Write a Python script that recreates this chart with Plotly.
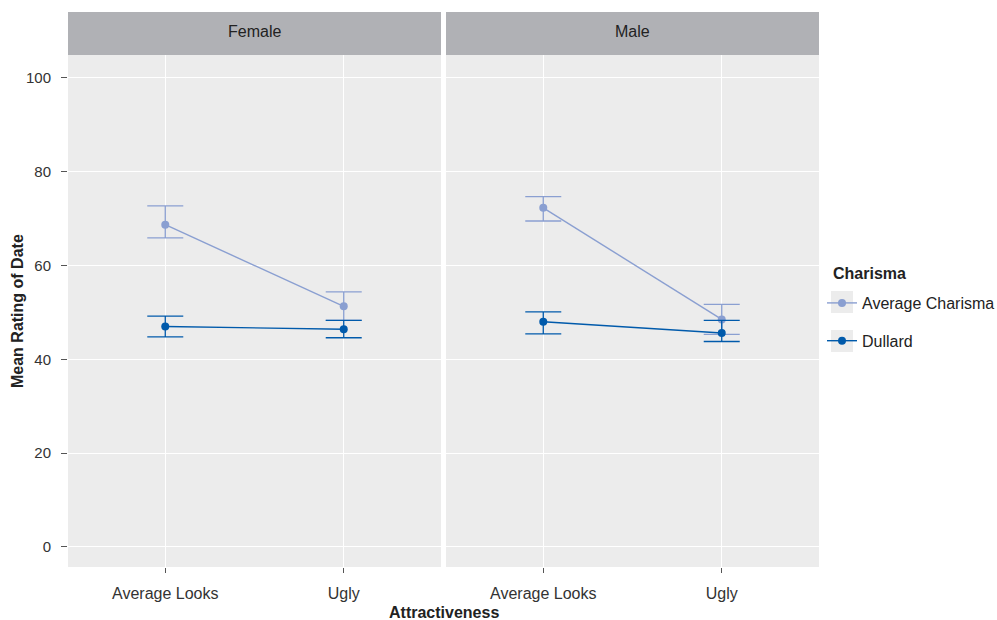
import plotly.graph_objects as go

categories = ["Average Looks", "Ugly"]
panels = ["Female", "Male"]
groups = ["Average Charisma", "Dullard"]

# mean, upper, lower for each panel/group across categories
female_avg_mean = [68.7, 51.3]
female_avg_hi = [72.7, 54.4]
female_avg_lo = [65.9, 48.3]
female_dull_mean = [47.0, 46.4]
female_dull_hi = [49.2, 48.3]
female_dull_lo = [44.8, 44.6]

male_avg_mean = [72.3, 48.5]
male_avg_hi = [74.7, 51.7]
male_avg_lo = [69.5, 45.3]
male_dull_mean = [48.0, 45.6]
male_dull_hi = [50.1, 48.3]
male_dull_lo = [45.4, 43.8]

y_ticks = [0, 20, 40, 60, 80, 100]

colors = {"Average Charisma": "#8a9fd1", "Dullard": "#005aab"}

data = {
    ("Female", "Average Charisma"): (female_avg_mean, female_avg_hi, female_avg_lo),
    ("Female", "Dullard"): (female_dull_mean, female_dull_hi, female_dull_lo),
    ("Male", "Average Charisma"): (male_avg_mean, male_avg_hi, male_avg_lo),
    ("Male", "Dullard"): (male_dull_mean, male_dull_hi, male_dull_lo),
}

FONT = "Liberation Sans, Arial, Helvetica, sans-serif"
PANEL = "#ececec"
TXT = "#222"
TICKTXT = "#333"
W, H = 997, 620
L, R, T, B = 68, 178, 55, 53
PW, PH = W - L - R, H - T - B

fig = go.Figure()
xpos = [1, 2]
for pi, panel in enumerate(panels):
    xa = "x" if pi == 0 else "x2"
    for g in groups:
        m, hi, lo = data[(panel, g)]
        fig.add_trace(go.Scatter(
            x=xpos, y=m, xaxis=xa, yaxis="y",
            mode="lines+markers", name=g, legendgroup=g,
            showlegend=(pi == 0),
            line=dict(color=colors[g], width=1.4),
            marker=dict(color=colors[g], size=8),
            error_y=dict(type="data", symmetric=False,
                         array=[h - v for h, v in zip(hi, m)],
                         arrayminus=[v - l for l, v in zip(lo, m)],
                         color=colors[g], thickness=1.3, width=18),
        ))

xr = [0.455, 2.545]
axis_common = dict(
    range=xr, tickmode="array", tickvals=xpos, ticktext=categories,
    showgrid=True, gridcolor="white", gridwidth=1.2, zeroline=False,
    ticks="outside", ticklen=5, tickcolor="#555", ticklabelstandoff=7,
    tickfont=dict(size=16, color=TICKTXT, family=FONT), showline=False,
)
dom1 = [0, 373 / PW]
dom2 = [378 / PW, 1]
fig.update_layout(
    width=W, height=H,
    margin=dict(l=L, r=R, t=T, b=B, autoexpand=False),
    paper_bgcolor="white", plot_bgcolor=PANEL,
    font=dict(family=FONT, size=16, color=TXT),
    xaxis=dict(domain=dom1, **axis_common),
    xaxis2=dict(domain=dom2, anchor="y", **axis_common),
    yaxis=dict(range=[-4.3, 104.9], tickvals=y_ticks, showgrid=True,
               gridcolor="white", gridwidth=1.2, zeroline=False,
               ticks="outside", ticklen=6, tickcolor="#555", ticklabelstandoff=7,
               tickfont=dict(size=15, color=TICKTXT, family=FONT)),
    legend=dict(x=(822 - L) / PW, xanchor="left", y=(H - B - 286) / PH, yanchor="top",
                font=dict(size=16, color=TXT), traceorder="grouped",
                tracegroupgap=14, itemwidth=30, bgcolor="rgba(0,0,0,0)"),
    showlegend=True,
)

for x0, x1 in [dom1, dom2]:
    fig.add_shape(type="rect", xref="paper", yref="paper", x0=x0, x1=x1, y0=0, y1=1,
                  fillcolor=PANEL, line_width=0, layer="below")

# legend key backgrounds
for ktop in [291, 330]:
    fig.add_shape(type="rect", xref="paper", yref="paper",
                  x0=(831 - L) / PW, x1=(853 - L) / PW,
                  y0=(H - B - ktop - 22) / PH, y1=(H - B - ktop) / PH,
                  fillcolor=PANEL, line_width=0, layer="below")

fig.add_annotation(xref="paper", yref="paper", x=(831 - L) / PW, y=(H - B - 273) / PH,
                   text="<b>Charisma</b>", showarrow=False, xanchor="left", yanchor="middle",
                   font=dict(size=16, color=TXT))

# y-axis title
fig.add_annotation(xref="paper", yref="paper", x=(17 - L) / PW, y=0.5, textangle=-90,
                   text="<b>Mean Rating of Date</b>", showarrow=False,
                   xanchor="center", yanchor="middle", font=dict(size=16, color=TXT))

# strips
strip_y0 = 1
strip_y1 = 1 + 43 / PH
for (x0, x1), label in zip([dom1, dom2], panels):
    fig.add_shape(type="rect", xref="paper", yref="paper", x0=x0, x1=x1,
                  y0=strip_y0, y1=strip_y1, fillcolor="#b0b1b5", line_width=0)
    fig.add_annotation(xref="paper", yref="paper", x=(x0 + x1) / 2,
                       y=(strip_y0 + strip_y1) / 2, yshift=2, text=label, showarrow=False,
                       font=dict(size=16, color=TXT), xanchor="center", yanchor="middle")

fig.add_annotation(xref="paper", yref="paper", x=0.5, y=-45 / PH, text="<b>Attractiveness</b>",
                   showarrow=False, font=dict(size=16, color=TXT),
                   xanchor="center", yanchor="middle")

fig.write_html("out.html", config={"displayModeBar": False},
               post_script="document.body.style.margin='0';")
